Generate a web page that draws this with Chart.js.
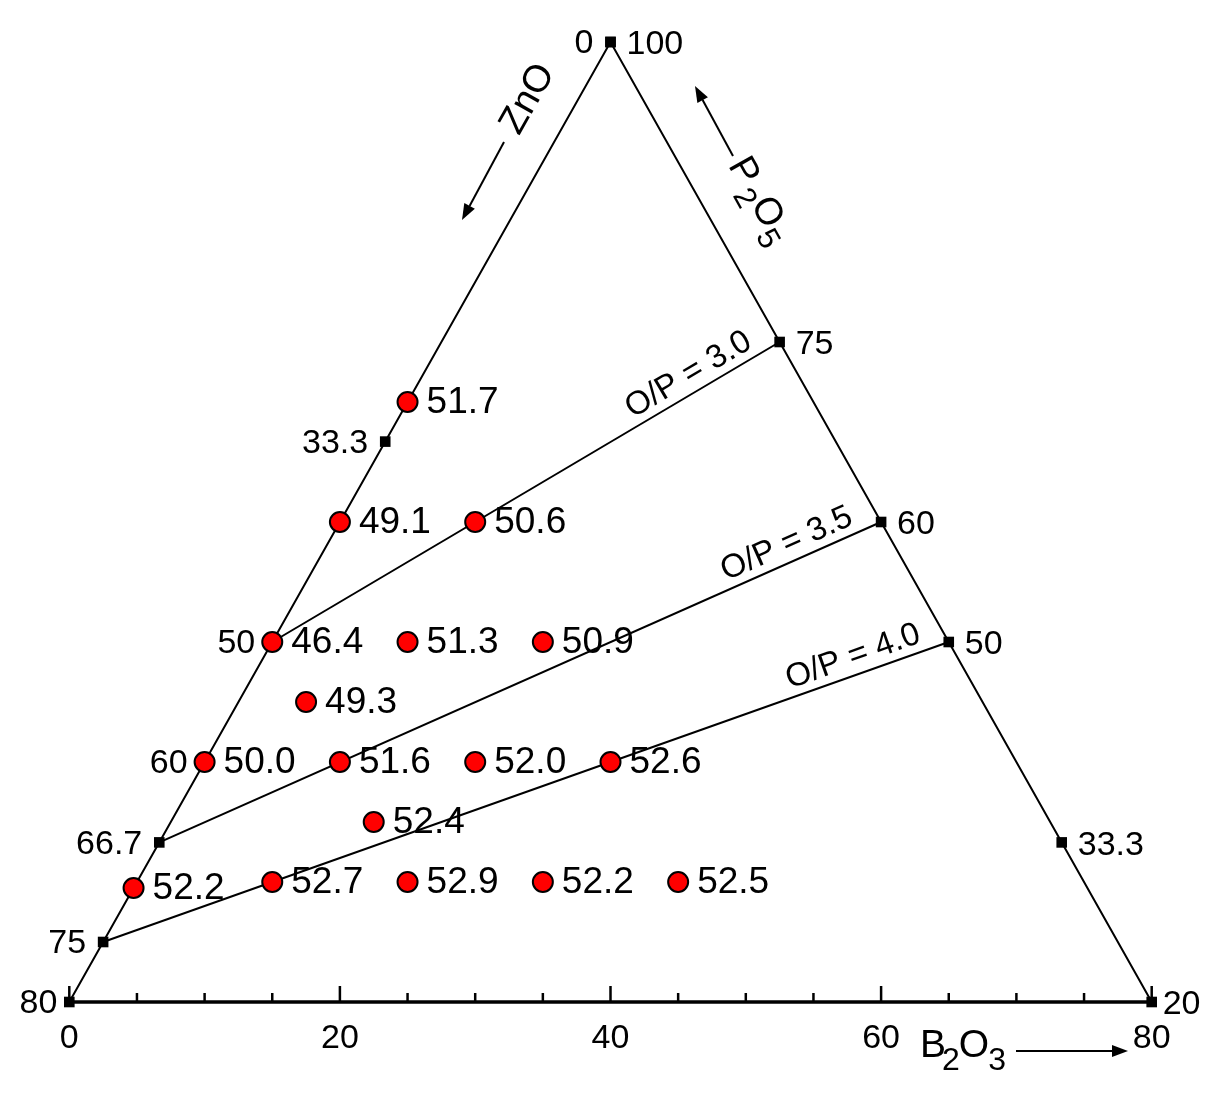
<!DOCTYPE html>
<html>
<head>
<meta charset="utf-8">
<script src="https://cdn.jsdelivr.net/npm/chart.js@4.4.1/dist/chart.umd.min.js"></script>
<style>
  body { margin: 0; background: #fff; }
  canvas { display: block; }
</style>
</head>
<body>
<canvas id="myChart" width="1211" height="1100"></canvas>
<script>
// glass compositions (mol%) and the measured value written next to each point
const zno  = [30, 40, 30, 50, 40, 30, 50, 60, 50, 40, 30, 50, 70.5, 60, 50, 40, 30];
const p2o5 = [70, 60, 60, 50, 50, 50, 45, 40, 40, 40, 40, 35, 29.5, 30, 30, 30, 30];
const b2o3 = [0, 0, 10, 0, 10, 20, 5, 0, 10, 20, 30, 15, 0, 10, 20, 30, 40];
const values = ['51.7', '49.1', '50.6', '46.4', '51.3', '50.9', '49.3', '50.0', '51.6',
                '52.0', '52.6', '52.4', '52.2', '52.7', '52.9', '52.2', '52.5'];

// edge marks: ZnO along the left edge (no B2O3), P2O5 along the right edge (no ZnO)
const leftTicks  = [0, 33.3, 50, 60, 66.7, 75, 80];
const rightTicks = [100, 75, 60, 50, 33.3, 20];
const bottomTicks = [0, 20, 40, 60, 80];

// O/P lines: start on left edge (ZnO), end on right edge (P2O5)
const opLabels = ['3.0', '3.5', '4.0'];
const opStartZnO = [50, 66.7, 75];
const opEndP2O5 = [75, 60, 50];

// ternary -> chart coords (the sub-triangle P2O5 20..100)
function tern(z, p, b) {
  return { x: b + (p - 20) / 2, y: p };
}

const FONT = '"Liberation Sans", Arial, sans-serif';

let points = [];
for (let i = 0; i < values.length; i++) points.push(tern(zno[i], p2o5[i], b2o3[i]));

let squares = [];
leftTicks.forEach(z => squares.push(tern(z, 100 - z, 0)));
rightTicks.forEach(p => squares.push(tern(0, p, 100 - p)));

let opLines = [];
for (let i = 0; i < opLabels.length; i++) {
  opLines.push({
    label: 'O/P = ' + opLabels[i],
    data: [tern(opStartZnO[i], 100 - opStartZnO[i], 0), tern(0, opEndP2O5[i], 100 - opEndP2O5[i])],
    showLine: true, borderColor: '#000', borderWidth: 2, pointRadius: 0, clip: false, order: 5
  });
}

function arrow(ctx, x1, y1, x2, y2) {
  const a = Math.atan2(y2 - y1, x2 - x1);
  const hl = 16, hw = 6;
  ctx.beginPath();
  ctx.moveTo(x1, y1);
  ctx.lineTo(x2 - hl * Math.cos(a), y2 - hl * Math.sin(a));
  ctx.lineWidth = 2;
  ctx.stroke();
  ctx.beginPath();
  ctx.moveTo(x2, y2);
  ctx.lineTo(x2 - hl * Math.cos(a) + hw * Math.sin(a), y2 - hl * Math.sin(a) - hw * Math.cos(a));
  ctx.lineTo(x2 - hl * Math.cos(a) - hw * Math.sin(a), y2 - hl * Math.sin(a) + hw * Math.cos(a));
  ctx.closePath();
  ctx.fill();
}

const textPlugin = {
  id: 'ternaryText',
  afterDatasetsDraw(chart) {
    const ctx = chart.ctx;
    const xs = chart.scales.x, ys = chart.scales.y;
    const pix = (z, p, b) => {
      const t = tern(z, p, b);
      return { x: xs.getPixelForValue(t.x), y: ys.getPixelForValue(t.y) };
    };
    ctx.save();
    ctx.fillStyle = '#000';
    ctx.strokeStyle = '#000';

    // ticks on the bottom edge, pointing up
    const yb = ys.getPixelForValue(20);
    ctx.lineWidth = 2.5;
    for (let v = 0; v <= 80; v += 5) {
      const x = xs.getPixelForValue(v);
      const len = v % 20 === 0 ? 16 : 9;
      ctx.beginPath();
      ctx.moveTo(x, yb);
      ctx.lineTo(x, yb - len);
      ctx.stroke();
    }

    // edge labels
    ctx.font = '34px ' + FONT;
    ctx.textBaseline = 'middle';
    ctx.textAlign = 'right';
    leftTicks.forEach(z => {
      const q = pix(z, 100 - z, 0);
      const gap = z === 80 ? 12 : 17;
      ctx.fillText(String(z), q.x - gap, q.y + 2);
    });
    ctx.textAlign = 'left';
    rightTicks.forEach(p => {
      const q = pix(0, p, 100 - p);
      const gap = p === 20 ? 11 : 16;
      ctx.fillText(String(p), q.x + gap, q.y + 3);
    });

    // value labels next to each point
    ctx.font = '37px ' + FONT;
    ctx.textAlign = 'left';
    for (let i = 0; i < values.length; i++) {
      const q = pix(zno[i], p2o5[i], b2o3[i]);
      ctx.fillText(values[i], q.x + 19, q.y + 1);
    }

    // O/P labels along the lines
    ctx.font = '33px ' + FONT;
    ctx.textAlign = 'right';
    ctx.textBaseline = 'alphabetic';
    for (let i = 0; i < opLabels.length; i++) {
      const a = pix(opStartZnO[i], 100 - opStartZnO[i], 0);
      const b = pix(0, opEndP2O5[i], 100 - opEndP2O5[i]);
      const ang = Math.atan2(b.y - a.y, b.x - a.x);
      ctx.save();
      ctx.translate(b.x, b.y);
      ctx.rotate(ang);
      ctx.fillText('O/P = ' + opLabels[i], -25, -9);
      ctx.restore();
    }

    // component names
    const top = pix(0, 100, 0), bl = pix(80, 20, 0), br = pix(0, 20, 80);
    const angL = Math.atan2(top.y - bl.y, top.x - bl.x);
    const angR = Math.atan2(br.y - top.y, br.x - top.x);

    // ZnO
    ctx.textBaseline = 'middle';
    ctx.textAlign = 'center';
    ctx.font = '38px ' + FONT;
    ctx.save();
    ctx.translate(528, 99);
    ctx.rotate(angL);
    ctx.fillText('ZnO', 0, 0);
    ctx.restore();
    arrow(ctx, 504, 142, 462, 220);

    // P2O5
    ctx.save();
    ctx.translate(737, 160);
    ctx.rotate(angR);
    ctx.textAlign = 'left';
    let cx = 0;
    ctx.font = '38px ' + FONT;
    ctx.fillText('P', cx, 0); cx += ctx.measureText('P').width + 3;
    ctx.font = '31px ' + FONT;
    ctx.fillText('2', cx, 13); cx += ctx.measureText('2').width;
    ctx.font = '38px ' + FONT;
    ctx.fillText('O', cx, 0); cx += ctx.measureText('O').width;
    ctx.font = '31px ' + FONT;
    ctx.fillText('5', cx, 13);
    ctx.restore();
    arrow(ctx, 733, 156, 695, 86);

    // B2O3
    ctx.textAlign = 'left';
    cx = 920;
    ctx.font = '39px ' + FONT;
    ctx.fillText('B', cx, 1046); cx += ctx.measureText('B').width - 4;
    ctx.font = '32px ' + FONT;
    ctx.fillText('2', cx, 1061); cx += ctx.measureText('2').width - 1;
    ctx.font = '39px ' + FONT;
    ctx.fillText('O', cx, 1046); cx += ctx.measureText('O').width - 1;
    ctx.font = '32px ' + FONT;
    ctx.fillText('3', cx, 1061);
    arrow(ctx, 1016, 1051, 1128, 1051);

    ctx.restore();
  }
};

const ctx = document.getElementById('myChart');

new Chart(ctx, {
  type: 'scatter',
  data: {
    datasets: [
      {
        label: 'glasses',
        data: points,
        pointStyle: 'circle',
        pointRadius: 10,
        pointBackgroundColor: '#ff0000',
        pointBorderColor: '#000',
        pointBorderWidth: 2,
        clip: false,
        order: 1
      },
      {
        label: 'edge marks',
        data: squares,
        pointStyle: 'rect',
        pointRadius: 7.5,
        pointBackgroundColor: '#000',
        pointBorderWidth: 0,
        clip: false,
        order: 2
      },
      {
        label: 'sides',
        data: [tern(80, 20, 0), tern(0, 100, 0), tern(0, 20, 80)],
        showLine: true,
        borderColor: '#000',
        borderWidth: 2,
        pointRadius: 0,
        clip: false,
        order: 4
      },
      {
        label: 'base',
        data: [tern(80, 20, 0), tern(0, 20, 80)],
        showLine: true,
        borderColor: '#000',
        borderWidth: 3.5,
        pointRadius: 0,
        clip: false,
        order: 3
      },
      ...opLines
    ]
  },
  options: {
    responsive: false,
    animation: false,
    layout: { padding: { left: 69.3, right: 59.3, top: 42, bottom: 0 } },
    plugins: { legend: { display: false }, tooltip: { enabled: false } },
    scales: {
      x: {
        type: 'linear',
        min: 0,
        max: 80,
        grid: { display: false, drawTicks: false },
        border: { display: false },
        afterBuildTicks: s => { s.ticks = bottomTicks.map(v => ({ value: v })); },
        afterFit: s => { s.height = 98; },
        ticks: {
          padding: 16,
          color: '#000',
          font: { family: FONT, size: 34 }
        }
      },
      y: {
        type: 'linear',
        min: 20,
        max: 100,
        display: false
      }
    }
  },
  plugins: [textPlugin]
});
</script>
</body>
</html>
